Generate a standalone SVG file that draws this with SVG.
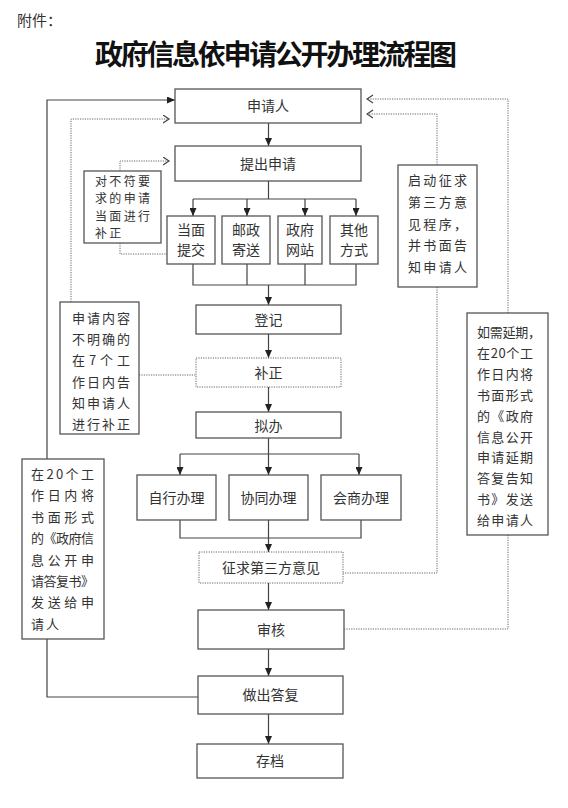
<svg xmlns="http://www.w3.org/2000/svg" width="568" height="808" viewBox="0 0 568 808">
<style>
text{font-family:"Noto Sans CJK SC","Noto Sans",sans-serif;fill:#333;}
.t{font-size:14px;text-anchor:middle;}
.s{font-size:13px;}
.s2{font-size:12px;}
.title{font-size:28px;font-weight:bold;fill:#111;}
.box{fill:#fff;stroke:#555;stroke-width:1.3;}
.dbox{fill:#fff;stroke:#666;stroke-width:1;stroke-dasharray:1.2 1.2;}
.ln{fill:none;stroke:#444;stroke-width:1.2;}
.arr{marker-end:url(#ah);}
.dl{fill:none;stroke:#666;stroke-width:1;stroke-dasharray:1.2 1.2;}
.dar{marker-end:url(#oh);}
</style>
<defs>
<marker id="ah" markerUnits="userSpaceOnUse" markerWidth="8" markerHeight="7" refX="8" refY="3.5" orient="auto">
<path d="M0,0 L8,3.5 L0,7 z" fill="#222"/>
</marker>
<marker id="oh" markerUnits="userSpaceOnUse" markerWidth="8" markerHeight="10" refX="6.5" refY="4.5" orient="auto">
<path d="M0.5,0.5 L6.5,4.5 L0.5,8.5" fill="none" stroke="#444" stroke-width="1.2" stroke-dasharray="none"/>
</marker>
</defs>
<rect width="568" height="808" fill="#fff"/>
<text x="17" y="26" style="font-size:15px" textLength="45" lengthAdjust="spacing">附件：</text>
<text class="title" x="95" y="65" textLength="362" lengthAdjust="spacing">政府信息依申请公开办理流程图</text>

<g id="connectors">
<path class="ln arr" d="M268.5,123 V146"/>
<path class="ln" d="M268.5,181 V199 M193,199 H356"/>
<path class="ln arr" d="M193,199 V216"/>
<path class="ln arr" d="M247,199 V216"/>
<path class="ln arr" d="M305,199 V216"/>
<path class="ln arr" d="M356,199 V216"/>
<path class="ln" d="M193,264 V285 H356 V264 M247,264 V285 M305,264 V285"/>
<path class="ln arr" d="M268.5,285 V305"/>
<path class="ln arr" d="M268.5,334 V358"/>
<path class="ln arr" d="M268.5,387 V412"/>
<path class="ln" d="M268.5,438 V454 M180,454 H359"/>
<path class="ln arr" d="M180,454 V475"/>
<path class="ln arr" d="M268.5,454 V475"/>
<path class="ln arr" d="M359,454 V475"/>
<path class="ln" d="M180,520 V538 H361 V520"/>
<path class="ln arr" d="M268.5,520 V552"/>
<path class="ln arr" d="M268.5,583 V610"/>
<path class="ln arr" d="M268.5,649 V676"/>
<path class="ln arr" d="M268.5,714 V744"/>
<path class="ln" d="M198,697 H47 V639"/>
<path class="ln arr" d="M47,459 V100 H175"/>
<path class="dl dar" d="M120,171 V161 H169"/>
<path class="dl" d="M120,243 V254 H167"/>
<path class="dl dar" d="M71,302 V119 H169"/>
<path class="dl" d="M139,375 H196"/>
<path class="dl dar" d="M437,165 V114 H367"/>
<path class="dl" d="M437,287 V573 H343"/>
<path class="dl dar" d="M508,313 V99 H367"/>
<path class="dl" d="M508,535 V629 H344"/>
</g>

<g id="n-applicant"><rect class="box" x="175" y="89" width="186" height="34"/><text class="t" x="268" y="111">申请人</text></g>
<g id="n-submit"><rect class="box" x="175" y="146" width="186" height="35"/><text class="t" x="268" y="168.5">提出申请</text></g>
<g id="n-inperson"><rect class="box" x="167" y="216" width="48" height="48"/><text class="t" x="191" y="234.5">当面</text><text class="t" x="191" y="255">提交</text></g>
<g id="n-post"><rect class="box" x="222" y="216" width="48" height="48"/><text class="t" x="246" y="234.5">邮政</text><text class="t" x="246" y="255">寄送</text></g>
<g id="n-web"><rect class="box" x="278" y="216" width="44" height="48"/><text class="t" x="300" y="234.5">政府</text><text class="t" x="300" y="255">网站</text></g>
<g id="n-other"><rect class="box" x="330" y="216" width="48" height="48"/><text class="t" x="354" y="234.5">其他</text><text class="t" x="354" y="255">方式</text></g>
<g id="n-register"><rect class="box" x="196" y="305" width="145" height="29"/><text class="t" x="268.5" y="325">登记</text></g>
<g id="n-correct"><rect class="dbox" x="196" y="358" width="145" height="29"/><text class="t" x="268.5" y="378">补正</text></g>
<g id="n-draft"><rect class="box" x="196" y="412" width="145" height="26"/><text class="t" x="268.5" y="430.5">拟办</text></g>
<g id="n-self"><rect class="box" x="137" y="475" width="79" height="45"/><text class="t" x="176.5" y="502.5">自行办理</text></g>
<g id="n-coop"><rect class="box" x="229" y="475" width="79" height="45"/><text class="t" x="268.5" y="502.5">协同办理</text></g>
<g id="n-consult"><rect class="box" x="321" y="475" width="80" height="45"/><text class="t" x="361" y="502.5">会商办理</text></g>
<g id="n-third"><rect class="dbox" x="199" y="552" width="144" height="31"/><text class="t" x="271" y="572.5">征求第三方意见</text></g>
<g id="n-review"><rect class="box" x="198" y="610" width="146" height="39"/><text class="t" x="271" y="634.5">审核</text></g>
<g id="n-reply"><rect class="box" x="198" y="676" width="145" height="38"/><text class="t" x="270.5" y="700">做出答复</text></g>
<g id="n-archive"><rect class="box" x="197" y="744" width="146" height="34"/><text class="t" x="270" y="766">存档</text></g>

<g id="n-note-correct">
<rect class="box" x="84" y="171" width="77" height="72"/>
<text class="s2" x="95" y="185.5" textLength="55" lengthAdjust="spacing">对不符要</text>
<text class="s2" x="95" y="203" textLength="55" lengthAdjust="spacing">求的申请</text>
<text class="s2" x="95" y="220.5" textLength="55" lengthAdjust="spacing">当面进行</text>
<text class="s2" x="95" y="238" style="letter-spacing:2.3px">补正</text>
</g>
<g id="n-note-unclear">
<rect class="box" x="60" y="302" width="79" height="132"/>
<text class="s" x="72" y="323" textLength="58" lengthAdjust="spacing">申请内容</text>
<text class="s" x="72" y="344.2" textLength="58" lengthAdjust="spacing">不明确的</text>
<text class="s" x="72" y="365.4" textLength="58" lengthAdjust="spacing">在7个工</text>
<text class="s" x="72" y="386.6" textLength="58" lengthAdjust="spacing">作日内告</text>
<text class="s" x="72" y="407.8" textLength="58" lengthAdjust="spacing">知申请人</text>
<text class="s" x="72" y="429" textLength="58" lengthAdjust="spacing">进行补正</text>
</g>
<g id="n-note-reply">
<rect class="box" x="22" y="459" width="82" height="180"/>
<text class="s" x="31" y="479" textLength="63" lengthAdjust="spacing">在20个工</text>
<text class="s" x="31" y="500.4" textLength="63" lengthAdjust="spacing">作日内将</text>
<text class="s" x="31" y="521.8" textLength="63" lengthAdjust="spacing">书面形式</text>
<text class="s" x="31" y="543.2" textLength="63" lengthAdjust="spacing">的《政府信</text>
<text class="s" x="31" y="564.6" textLength="63" lengthAdjust="spacing">息公开申</text>
<text class="s" x="31" y="586" textLength="63" lengthAdjust="spacing">请答复书》</text>
<text class="s" x="31" y="607.4" textLength="63" lengthAdjust="spacing">发送给申</text>
<text class="s" x="31" y="628.8" style="letter-spacing:2px">请人</text>
</g>
<g id="n-note-third">
<rect class="box" x="398" y="165" width="79" height="122"/>
<text class="s" x="408" y="185.4" textLength="59" lengthAdjust="spacing">启动征求</text>
<text class="s" x="408" y="207" textLength="59" lengthAdjust="spacing">第三方意</text>
<text class="s" x="408" y="228.5" textLength="59" lengthAdjust="spacing">见程序，</text>
<text class="s" x="408" y="250" textLength="59" lengthAdjust="spacing">并书面告</text>
<text class="s" x="408" y="271.5" textLength="59" lengthAdjust="spacing">知申请人</text>
</g>
<g id="n-note-extend">
<rect class="box" x="467" y="313" width="81" height="222"/>
<text class="s" x="477" y="337" textLength="64" lengthAdjust="spacing">如需延期，</text>
<text class="s" x="477" y="357.9" textLength="56" lengthAdjust="spacing">在20个工</text>
<text class="s" x="477" y="378.8" textLength="56" lengthAdjust="spacing">作日内将</text>
<text class="s" x="477" y="399.7" textLength="56" lengthAdjust="spacing">书面形式</text>
<text class="s" x="477" y="420.6" textLength="56" lengthAdjust="spacing">的《政府</text>
<text class="s" x="477" y="441.5" textLength="56" lengthAdjust="spacing">信息公开</text>
<text class="s" x="477" y="462.4" textLength="56" lengthAdjust="spacing">申请延期</text>
<text class="s" x="477" y="483.3" textLength="56" lengthAdjust="spacing">答复告知</text>
<text class="s" x="477" y="504.2" textLength="56" lengthAdjust="spacing">书》发送</text>
<text class="s" x="477" y="525.1" textLength="56" lengthAdjust="spacing">给申请人</text>
</g>
</svg>
